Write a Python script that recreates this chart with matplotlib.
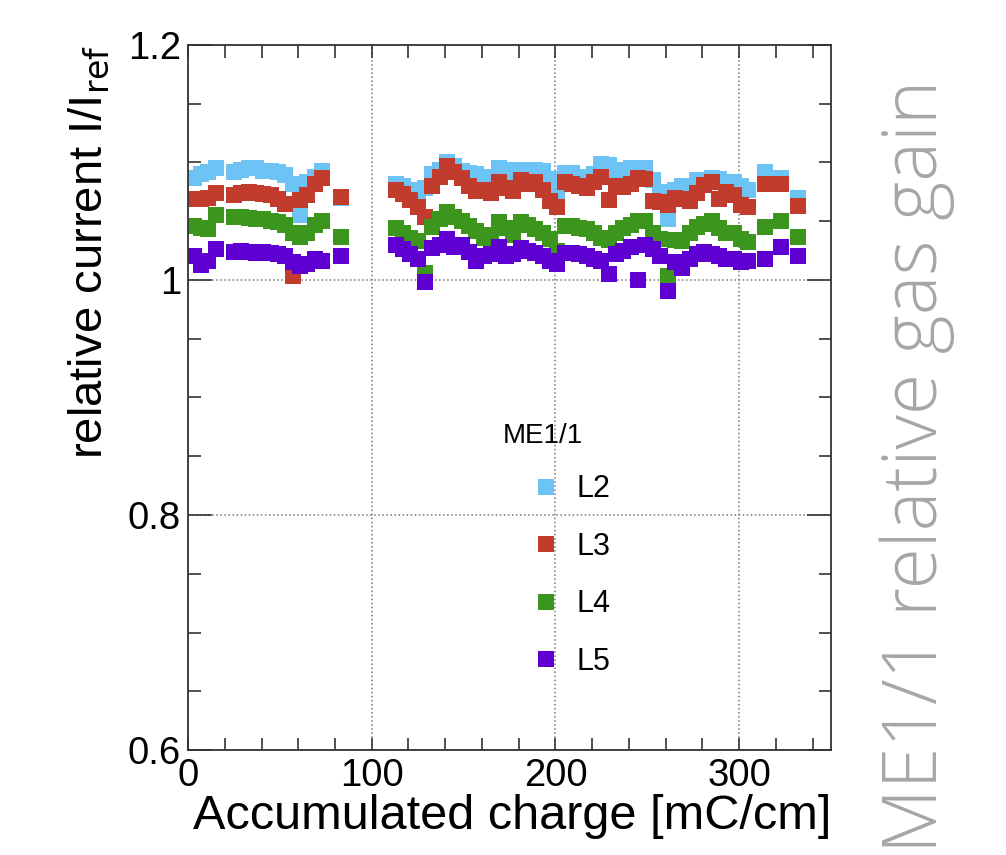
import matplotlib
matplotlib.use('Agg')
import matplotlib.pyplot as plt
from matplotlib.ticker import MultipleLocator

plt.rcParams['font.family'] = ['Liberation Sans', 'DejaVu Sans']

# accumulated charge [mC/cm], shared by all layers
charge = [3, 7, 11, 15, 25, 29, 33, 37, 41, 45, 49, 53, 57, 61, 65, 69, 73, 83,
          113, 117, 121, 125, 129, 133, 137, 141, 145, 149, 153, 157, 161, 165,
          169, 173, 177, 181, 185, 189, 193, 197, 201, 205, 209, 213, 217, 221,
          225, 229, 233, 237, 241, 245, 249, 253, 257, 261, 265, 269, 273, 277,
          281, 285, 289, 293, 297, 301, 305, 314, 323, 332]

l2 = [1.087, 1.090, 1.092, 1.095, 1.092, 1.094, 1.095, 1.095, 1.093, 1.093, 1.092, 1.089, 1.082, 1.055, 1.083, 1.088, 1.093, 1.070,
      1.082, 1.080, 1.077, 1.076, 1.078, 1.090, 1.094, 1.100, 1.097, 1.093, 1.091, 1.090, 1.088, 1.087,
      1.095, 1.094, 1.090, 1.094, 1.094, 1.094, 1.093, 1.086, 1.075, 1.091, 1.091, 1.088, 1.087, 1.090,
      1.099, 1.098, 1.090, 1.094, 1.095, 1.093, 1.095, 1.085, 1.075, 1.052, 1.077, 1.080, 1.080, 1.085,
      1.085, 1.087, 1.086, 1.083, 1.083, 1.080, 1.077, 1.092, 1.087, 1.070]

l3 = [1.069, 1.069, 1.070, 1.074, 1.072, 1.074, 1.075, 1.074, 1.073, 1.072, 1.069, 1.065, 1.003, 1.068, 1.072, 1.082, 1.087, 1.071,
      1.077, 1.073, 1.068, 1.062, 1.054, 1.080, 1.088, 1.097, 1.092, 1.087, 1.080, 1.076, 1.077, 1.074,
      1.083, 1.078, 1.076, 1.085, 1.082, 1.083, 1.077, 1.067, 1.062, 1.083, 1.082, 1.080, 1.078, 1.083,
      1.088, 1.068, 1.080, 1.079, 1.082, 1.087, 1.086, 1.067, 1.066, 1.064, 1.070, 1.069, 1.067, 1.074,
      1.081, 1.083, 1.069, 1.075, 1.072, 1.064, 1.062, 1.082, 1.082, 1.063]

l4 = [1.046, 1.044, 1.043, 1.055, 1.054, 1.054, 1.053, 1.052, 1.052, 1.050, 1.049, 1.047, 1.040, 1.037, 1.040, 1.047, 1.050, 1.037,
      1.044, 1.040, 1.036, 1.033, 1.006, 1.045, 1.052, 1.058, 1.054, 1.050, 1.046, 1.042, 1.036, 1.038,
      1.049, 1.044, 1.038, 1.049, 1.047, 1.043, 1.040, 1.035, 1.025, 1.046, 1.046, 1.044, 1.043, 1.040,
      1.036, 1.034, 1.040, 1.044, 1.047, 1.050, 1.050, 1.040, 1.035, 1.003, 1.034, 1.033, 1.040, 1.045,
      1.048, 1.050, 1.044, 1.040, 1.040, 1.035, 1.032, 1.045, 1.050, 1.037]

l5 = [1.020, 1.013, 1.016, 1.026, 1.024, 1.025, 1.024, 1.023, 1.024, 1.023, 1.022, 1.020, 1.015, 1.012, 1.014, 1.018, 1.016, 1.020,
      1.030, 1.026, 1.022, 1.018, 0.998, 1.027, 1.030, 1.035, 1.028, 1.030, 1.024, 1.016, 1.020, 1.022,
      1.028, 1.020, 1.022, 1.027, 1.025, 1.023, 1.020, 1.016, 1.014, 1.023, 1.023, 1.022, 1.020, 1.018,
      1.016, 1.005, 1.022, 1.025, 1.028, 1.000, 1.030, 1.026, 1.020, 0.991, 1.015, 1.010, 1.018, 1.022,
      1.024, 1.022, 1.020, 1.018, 1.018, 1.015, 1.016, 1.018, 1.028, 1.020]

layers = ['L2', 'L3', 'L4', 'L5']
colors = ['#6ec3f5', '#c23c2d', '#3c961e', '#5f00d2']

fig = plt.figure(figsize=(10.06, 8.55), dpi=100)
ax = fig.add_axes([0.1869, 0.1228, 0.6392, 0.8246])

for vals, lab, c in zip([l2, l3, l4, l5], layers, colors):
    ax.plot(charge, vals, 's', color=c, ms=11, mew=0, label=lab)

ax.set_xlim(0, 350)
ax.set_ylim(0.6, 1.2)

ax.xaxis.set_major_locator(MultipleLocator(100))
ax.xaxis.set_minor_locator(MultipleLocator(20))
ax.yaxis.set_major_locator(MultipleLocator(0.2))
ax.yaxis.set_minor_locator(MultipleLocator(0.05))
ax.set_yticks([0.6, 0.8, 1.0, 1.2])
ax.set_yticklabels(['0.6', '0.8', '1', '1.2'])

ax.grid(True, which='major', linestyle=':', color='#777777', linewidth=1.1)
ax.set_axisbelow(True)

ax.tick_params(axis='both', which='both', direction='in', top=True, right=True,
               labelsize=27.5, color='#333333', width=1.2)
ax.tick_params(axis='y', which='major', length=17, pad=5)
ax.tick_params(axis='y', which='minor', length=9)
ax.tick_params(axis='x', which='major', length=9, pad=6)
ax.tick_params(axis='x', which='minor', length=9)
for s in ax.spines.values():
    s.set_linewidth(1.3)
    s.set_color('#333333')

ax.set_xlabel('Accumulated charge [mC/cm]', fontsize=35, loc='right', labelpad=0)
ax.set_ylabel(r'relative current I/I$_{\mathrm{ref}}$', fontsize=34, loc='top', labelpad=12)

ax.text(0.552, 0.435, 'ME1/1', transform=ax.transAxes, fontsize=20, ha='center')
ax.legend(loc='upper left', bbox_to_anchor=(0.49, 0.43), frameon=False,
          fontsize=22, handletextpad=0.5, labelspacing=0.9, markerscale=1.0,
          handlelength=1.0)

fig.text(0.912, 0.455, 'ME1/1 relative gas gain', rotation=90, fontsize=54,
         color='#a6a6a6', ha='center', va='center', family='Open Sans',
         weight='light')

fig.savefig('out.png', dpi=100)
